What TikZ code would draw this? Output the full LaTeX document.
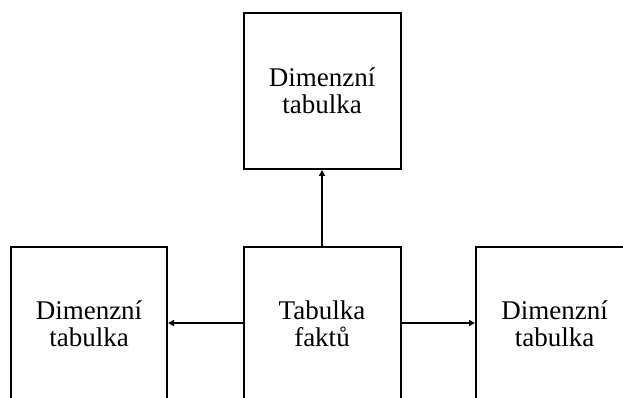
\documentclass[tikz,border=0pt]{standalone}
\usepackage{fontspec}
\setmainfont{Liberation Serif}
\usetikzlibrary{arrows.meta}
\begin{document}
\begin{tikzpicture}[x=1pt,y=-1pt,
  box/.style={draw, line width=2pt, rectangle, inner sep=0pt,
    minimum width=157pt, align=center,
    font=\fontsize{27pt}{27pt}\selectfont},
  topbox/.style={box, minimum height=156pt},
  lowbox/.style={box, minimum height=154pt},
  conn/.style={line width=2pt, -{Triangle[length=6pt,width=6pt]}}]
\useasboundingbox (0,0) rectangle (623,398);
\clip (0,0) rectangle (623,398);
\node[topbox] (dtop) at (322,91) {Dimenzní\\tabulka};
\node[lowbox] (fakt) at (322,324) {Tabulka\\faktů};
\node[lowbox, minimum width=156pt] (dleft) at (89,324) {Dimenzní\\tabulka};
\node[lowbox] (dright) at (554.5,324) {Dimenzní\\tabulka};
\draw[conn] (fakt.north) -- (dtop.south);
\draw[conn] (fakt.west |- 0,323) -- (dleft.east |- 0,323);
\draw[conn] (fakt.east |- 0,323) -- (dright.west |- 0,323);
\end{tikzpicture}
\end{document}
